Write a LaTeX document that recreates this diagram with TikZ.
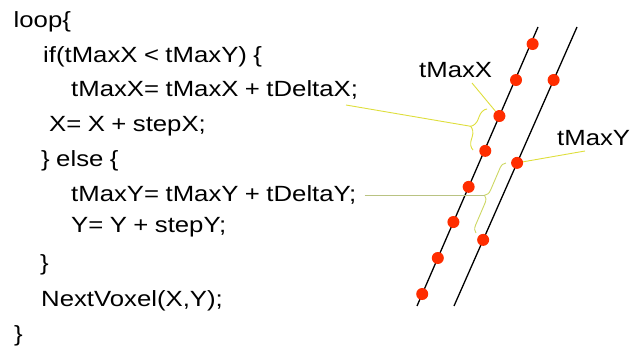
\documentclass[tikz,border=0pt]{standalone}
\usepackage{fontspec}
\setmainfont[FakeStretch=1.17,WordSpace=0.9]{Liberation Sans}
\usetikzlibrary{decorations.pathreplacing,calc}
\definecolor{dotred}{RGB}{255,45,0}
\definecolor{yel}{RGB}{222,222,60}
\definecolor{olivel}{RGB}{185,195,130}
\definecolor{yelgreen}{RGB}{205,215,100}
\begin{document}
\begin{tikzpicture}[x=1pt,y=-1pt,
  code/.style={anchor=base west,inner sep=0pt,font=\fontsize{22}{26}\selectfont},
  dot/.style={circle,fill=dotred,inner sep=0pt,minimum size=12pt},
  ray/.style={line width=1.3pt,black},
  ylink/.style={yel,line width=0.9pt},
  bracea/.style={decorate,decoration={brace,amplitude=10pt},yel,line width=0.9pt},
  braceb/.style={decorate,decoration={brace,amplitude=7pt},yelgreen,line width=0.9pt}]
\useasboundingbox (0,0) rectangle (635,350);
% code
\node[code] (l1) at (13.5,28) {loop\{};
\node[code] (l2) at (43,63) {if(tMaxX < tMaxY) \{};
\node[code] (l3) at (71,97) {tMaxX= tMaxX + tDeltaX;};
\node[code] (l4) at (49,132) {X= X + stepX;};
\node[code] (l5) at (41,167) {\} else \{};
\node[code] (l6) at (71,202) {tMaxY= tMaxY + tDeltaY;};
\node[code] (l7) at (71,233) {Y= Y + stepY;};
\node[code] (l8) at (40,270) {\}};
\node[code] (l9) at (41,306) {NextVoxel(X,Y);};
\node[code] (l10) at (14,341) {\}};
% labels
\node[code] (lx) at (419,78) {tMaxX};
\node[code] (ly) at (557,146) {tMaxY};
% rays
\coordinate (a1) at (538,27);
\coordinate (a2) at (417,306);
\coordinate (b1) at (577,27);
\coordinate (b2) at (454,306);
\draw[ray] (a2) -- (a1);
\draw[ray] (b2) -- (b1);
% braces
\coordinate (bb1) at (473,150);
\coordinate (bt1) at (487,109);
\coordinate (bb2) at (476,233);
\coordinate (bt2) at (506,163);
\draw[bracea] (bb1) -- (bt1);
\draw[braceb] (bb2) -- (bt2);
\coordinate (t1) at ($($(bb1)!0.5!(bt1)$)!10pt!90:(bt1)$);
\coordinate (t2) at ($($(bb2)!0.5!(bt2)$)!7pt!90:(bt2)$);
% links (drawn under the dots)
\coordinate (s1) at (346,105);
\coordinate (s2) at ($(l6.east)+(8,0)$);
\coordinate (lxp) at (472,83);
\coordinate (lyp) at (585,151);
\coordinate (p3c) at ($(a2)!0.681!(a1)$);
\coordinate (q2c) at ($(b2)!0.513!(b1)$);
\draw[ylink] (s1) -- (t1);
\draw[olivel,line width=0.9pt] (s2 |- t2) -- (t2);
\draw[ylink] (lxp) -- (p3c);
\draw[ylink] (lyp) -- (q2c);
% dots
\node[dot] (p1) at ($(a2)!0.939!(a1)+(2,0)$) {};
\node[dot] (p2) at ($(a2)!0.810!(a1)+(1,0)$) {};
\node[dot] (p3) at (p3c) {};
\node[dot] (p4) at ($(a2)!0.556!(a1)+(1,0)$) {};
\node[dot] (p5) at ($(a2)!0.427!(a1)$) {};
\node[dot] (p6) at ($(a2)!0.301!(a1)$) {};
\node[dot] (p7) at ($(a2)!0.172!(a1)$) {};
\node[dot] (p8) at ($(a2)!0.043!(a1)$) {};
\node[dot] (q1) at ($(b2)!0.810!(b1)$) {};
\node[dot] (q2) at (q2c) {};
\node[dot] (q3) at ($(b2)!0.237!(b1)$) {};
\end{tikzpicture}
\end{document}
